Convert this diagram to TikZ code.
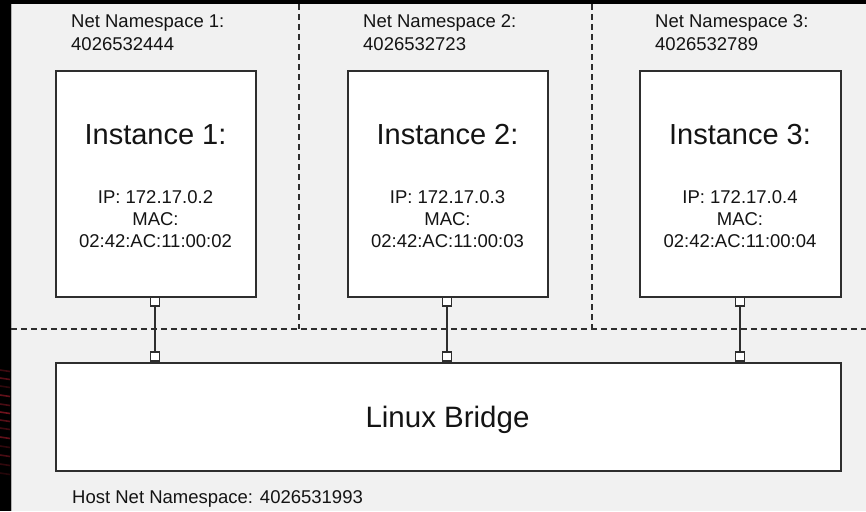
\documentclass[tikz,border=0pt]{standalone}
\usepackage{fontspec}
\setmainfont{Liberation Sans}
\definecolor{bg}{HTML}{F1F1F1}
\definecolor{ln}{HTML}{2E2E2E}
\definecolor{tx}{HTML}{141414}
\definecolor{dred}{HTML}{7A1420}
\begin{document}
\begin{tikzpicture}[x=1pt,y=-1pt,
  box/.style={draw=ln,line width=1.6pt,fill=white,inner sep=0pt},
  sep/.style={dash pattern=on 6pt off 4pt,line width=1.3pt,draw=ln},
  port/.style={draw=ln,fill=white,line width=1.3pt,minimum size=9pt,inner sep=0pt},
  link/.style={draw=ln,line width=1.5pt},
  small/.style={font=\fontsize{18.5}{22}\selectfont,text=tx,inner sep=0pt},
  big/.style={font=\fontsize{29}{33}\selectfont,text=tx,inner sep=0pt},
  huge/.style={font=\fontsize{29.5}{34}\selectfont,text=tx,inner sep=0pt}]
\useasboundingbox (0,0) rectangle (866,511);
\fill[bg] (0,0) rectangle (866,511);
\fill[black] (0,0) rectangle (866,4);
\fill[black] (0,0) rectangle (11,511);
\draw[gray!60,line width=0.8pt] (11.4,4) -- (11.4,511);
% red decoration at left edge
\foreach \yy/\op in {370/0.5,378/0.7,386/0.4,395/0.8,404/0.6,412/0.9,420/0.7,428/0.5,437/0.8,446/0.4,455/0.6,464/0.4,473/0.3}
  \draw[dred,line width=1.6pt,opacity=\op] (0,\yy) -- (10,\yy+1.5);
% separators
\coordinate (hl) at (11,329);
\coordinate (hr) at (866,329);
\coordinate (v1t) at (299,4);
\coordinate (v1b) at (299,329);
\coordinate (v2t) at (592,4);
\coordinate (v2b) at (592,329);
\draw[sep] (hl) -- (hr);
\draw[sep] (v1t) -- (v1b);
\draw[sep] (v2t) -- (v2b);
% instance boxes
\node[box,anchor=north west,minimum width=200pt,minimum height=226pt] (i1) at (55,70) {};
\node[box,anchor=north west,minimum width=200pt,minimum height=226pt] (i2) at (347,70) {};
\node[box,anchor=north west,minimum width=201pt,minimum height=226pt] (i3) at (639,70) {};
% bridge
\node[box,anchor=north west,minimum width=785pt,minimum height=108pt] (br) at (55,362) {};
% ports and links
\node[port] (p1t) at (155,301.5) {};
\node[port] (p1b) at (155,356.5) {};
\node[port] (p2t) at (447,301.5) {};
\node[port] (p2b) at (447,356.5) {};
\node[port] (p3t) at (740,301.5) {};
\node[port] (p3b) at (740,356.5) {};
\draw[link] (p1t) -- (p1b);
\draw[link] (p2t) -- (p2b);
\draw[link] (p3t) -- (p3b);
% namespace labels
\node[small,anchor=base west] (n1a) at (71,28) {Net Namespace 1:};
\node[small,anchor=base west] (n1b) at (71,50.5) {4026532444};
\node[small,anchor=base west] (n2a) at (363,28) {Net Namespace 2:};
\node[small,anchor=base west] (n2b) at (363,50.5) {4026532723};
\node[small,anchor=base west] (n3a) at (655,28) {Net Namespace 3:};
\node[small,anchor=base west] (n3b) at (655,50.5) {4026532789};
% instance texts
\node[big,anchor=base] (t1) at (155.5,144) {Instance 1:};
\node[small,anchor=base] (ip1) at (155.5,203) {IP: 172.17.0.2};
\node[small,anchor=base] (m1) at (155.5,225) {MAC:};
\node[small,anchor=base] (a1) at (155.5,247) {02:42:AC:11:00:02};
\node[big,anchor=base] (t2) at (447.5,144) {Instance 2:};
\node[small,anchor=base] (ip2) at (447.5,203) {IP: 172.17.0.3};
\node[small,anchor=base] (m2) at (447.5,225) {MAC:};
\node[small,anchor=base] (a2) at (447.5,247) {02:42:AC:11:00:03};
\node[big,anchor=base] (t3) at (740,144) {Instance 3:};
\node[small,anchor=base] (ip3) at (740,203) {IP: 172.17.0.4};
\node[small,anchor=base] (m3) at (740,225) {MAC:};
\node[small,anchor=base] (a3) at (740,247) {02:42:AC:11:00:04};
% bridge text
\node[huge,anchor=base] (bt) at (447.5,427) {Linux Bridge};
\node[small,anchor=base west] (host) at (72,503) {Host Net Namespace: 4026531993};
\end{tikzpicture}
\end{document}
